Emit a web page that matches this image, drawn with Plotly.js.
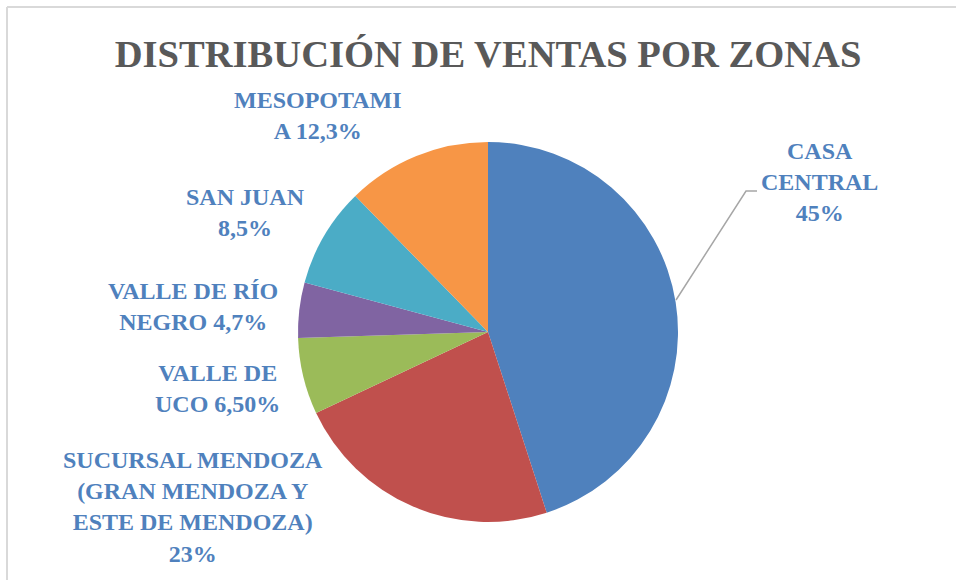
<!DOCTYPE html>
<html>
<head>
<meta charset="utf-8">
<script src="https://cdn.plot.ly/plotly-3.0.1.min.js"></script>
<style>
html, body { margin: 0; padding: 0; background: #ffffff; }
#chart { width: 956px; height: 580px; }
</style>
</head>
<body>
<div id="chart"></div>
<script>
// ---- Data ----
var categories = ["CASA CENTRAL", "SUCURSAL MENDOZA (GRAN MENDOZA Y ESTE DE MENDOZA)", "VALLE DE UCO", "VALLE DE RÍO NEGRO", "SAN JUAN", "MESOPOTAMIA"];
var values = [45, 23, 6.5, 4.7, 8.5, 12.3];
var percentLabels = ["45%", "23%", "6,50%", "4,7%", "8,5%", "12,3%"];
// label text as wrapped in the reference (category + percent)
var wrappedLabels = [
  "CASA<br>CENTRAL<br>45%",
  "SUCURSAL MENDOZA<br>(GRAN MENDOZA Y<br>ESTE DE MENDOZA)<br>23%",
  "VALLE DE<br>UCO 6,50%",
  "VALLE DE RÍO<br>NEGRO 4,7%",
  "SAN JUAN<br>8,5%",
  "MESOPOTAMI<br>A 12,3%"
];
var colors = ["#4F81BD", "#C0504D", "#9BBB59", "#8064A2", "#4BACC6", "#F79646"];
var titleText = "DISTRIBUCIÓN DE VENTAS POR ZONAS";

// ---- Layout helpers (pixel -> paper) ----
var W = 956, H = 580;
function px(x) { return x / W; }
function py(y) { return 1 - y / H; }

// label anchor positions (pixels, text block centers)
var labelPos = [
  [819, 182],
  [193, 507],
  [217, 388],
  [193, 306],
  [246, 212],
  [318, 115]
];

var serif = "'Liberation Serif', 'DejaVu Serif', serif";

var annotations = wrappedLabels.map(function (t, i) {
  return {
    text: "<b>" + t + "</b>",
    x: px(labelPos[i][0]), y: py(labelPos[i][1]),
    xref: "paper", yref: "paper",
    xanchor: "center", yanchor: "middle",
    align: "center",
    showarrow: false,
    font: { family: serif, size: 24, color: "#4F81BD" }
  };
});

var trace = {
  type: "pie",
  labels: categories,
  values: values,
  text: percentLabels,
  sort: false,
  direction: "clockwise",
  rotation: 0,
  textinfo: "none",
  hoverinfo: "none",
  showlegend: false,
  marker: { colors: colors, line: { color: "#ffffff", width: 0 } },
  domain: { x: [px(298), px(678)], y: [py(522), py(142)] }
};

var layout = {
  width: W, height: H,
  margin: { l: 0, r: 0, t: 0, b: 0 },
  paper_bgcolor: "#ffffff",
  title: {
    text: "<b>" + titleText + "</b>",
    x: px(488), xanchor: "center",
    y: py(53), yanchor: "middle",
    xref: "paper", yref: "paper",
    font: { family: serif, size: 38.6, color: "#595959" }
  },
  annotations: annotations,
  shapes: [
    { type: "line", xref: "paper", yref: "paper", x0: px(7), x1: 1.2, y0: py(7), y1: py(7),
      line: { color: "#D9D9D9", width: 2 } },
    { type: "line", xref: "paper", yref: "paper", x0: px(7), x1: px(7), y0: py(7), y1: -0.2,
      line: { color: "#D9D9D9", width: 2 } },
    { type: "path", xref: "paper", yref: "paper",
      path: "M " + px(676) + "," + py(300) + " L " + px(746) + "," + py(191) + " L " + px(757) + "," + py(191),
      line: { color: "#A6A6A6", width: 1.5 } }
  ]
};

Plotly.newPlot("chart", [trace], layout, { displayModeBar: false, staticPlot: true });
</script>
</body>
</html>
